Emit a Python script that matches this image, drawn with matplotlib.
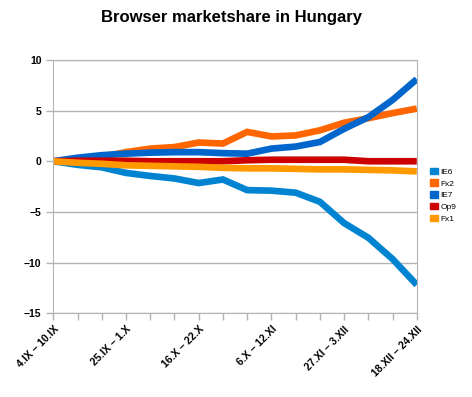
import matplotlib
matplotlib.use("Agg")
import matplotlib.pyplot as plt
from matplotlib.patches import Patch

plt.rcParams['font.family'] = ['Liberation Sans', 'DejaVu Sans']

# weekly change of browser share (percentage points), 4.IX .. 24.XII
weeks = list(range(16))
tick_labels = ["4.IX – 10.IX", "25.IX – 1.X", "16.X – 22.X",
               "6.X – 12.XI", "27.XI – 3.XII", "18.XII – 24.XII"]
tick_weeks = [0, 3, 6, 9, 12, 15]

ie6 = [0, -0.35, -0.6, -1.15, -1.45, -1.7, -2.15, -1.8, -2.85, -2.9, -3.1, -4.0, -6.1, -7.55, -9.65, -12.2]
fx2 = [0, 0.2, 0.45, 0.9, 1.25, 1.4, 1.85, 1.75, 2.9, 2.45, 2.55, 3.05, 3.8, 4.25, 4.75, 5.2]
ie7 = [0, 0.35, 0.6, 0.75, 0.85, 0.9, 0.9, 0.8, 0.75, 1.25, 1.45, 1.9, 3.2, 4.35, 6.05, 8.1]
op9 = [0, 0.05, 0.05, 0.05, 0, 0, 0, 0, 0.1, 0.15, 0.15, 0.15, 0.15, 0, 0, 0]
fx1 = [0, -0.15, -0.25, -0.4, -0.45, -0.5, -0.55, -0.65, -0.7, -0.7, -0.75, -0.8, -0.8, -0.85, -0.9, -1.0]

names = ["IE6", "Fx2", "IE7", "Op9", "Fx1"]
series = [ie6, fx2, ie7, op9, fx1]
colors = ["#0084d1", "#ff6600", "#0066cc", "#cc0000", "#ff9900"]

fig = plt.figure(figsize=(4.72, 3.97), dpi=100)
ax = fig.add_axes([0.113, 0.211, 0.77, 0.638])

for vals, c in zip(series, colors):
    ax.plot(weeks, vals, color=c, lw=4.8, solid_capstyle='butt', solid_joinstyle='miter')

ax.set_xlim(0, 15)
ax.set_ylim(-15, 10)
ax.set_yticks([-15, -10, -5, 0, 5, 10])
ax.set_xticks(weeks, minor=True)
ax.set_xticks(tick_weeks)
ax.set_xticklabels(tick_labels, rotation=45, ha='right', va='top',
                   rotation_mode='anchor', fontsize=7.5, fontweight='bold')
for lab in ax.get_yticklabels():
    lab.set_fontsize(7.5)
    lab.set_fontweight('bold')

ax.grid(axis='y', color='#b3b3b3', lw=1)
ax.set_axisbelow(True)
for s in ax.spines.values():
    s.set_color('#b3b3b3')
ax.tick_params(axis='both', which='both', color='#b3b3b3', length=5, width=1)
ax.tick_params(axis='x', which='major', pad=3)

fig.suptitle("Browser marketshare in Hungary", x=0.49, y=0.975,
             fontsize=12, fontweight='bold')

handles = [Patch(color=c) for c in colors]
fig.legend(handles, names, loc='center left', bbox_to_anchor=(0.905, 0.508),
           frameon=False, fontsize=6, handlelength=0.9, handleheight=0.8,
           handletextpad=0.3, labelspacing=0.45, borderaxespad=0)

fig.savefig("out.png", dpi=100)
